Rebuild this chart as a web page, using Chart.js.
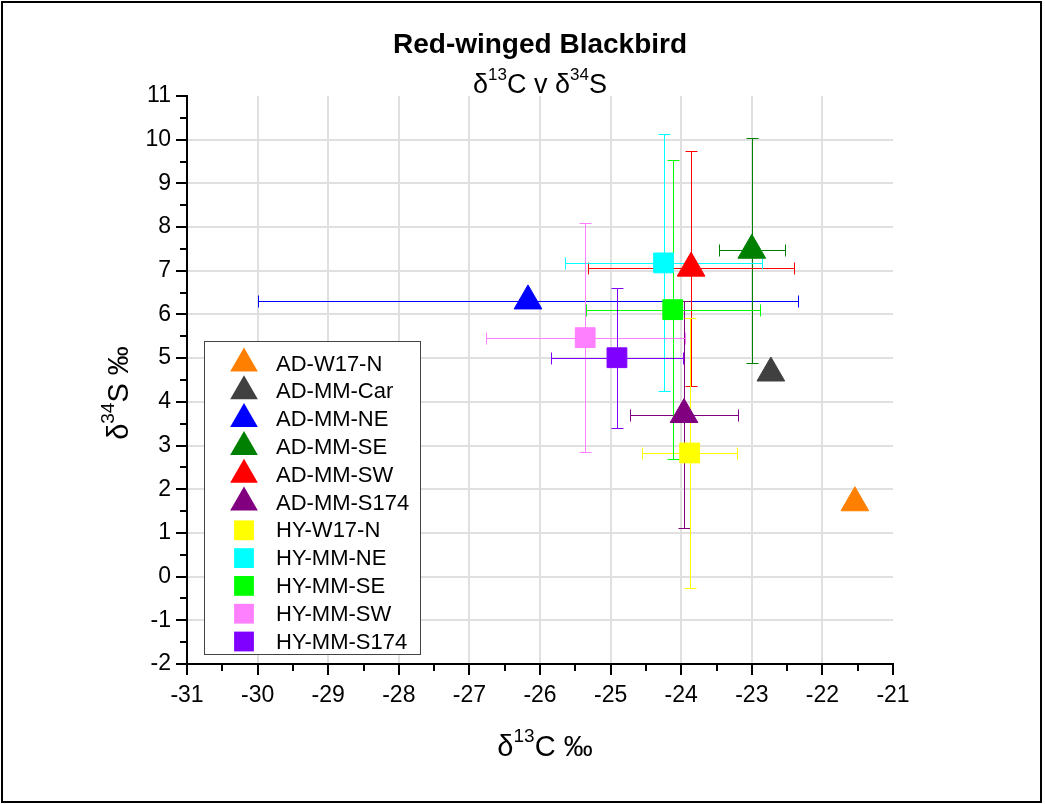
<!DOCTYPE html>
<html>
<head>
<meta charset="utf-8">
<script src="https://cdn.jsdelivr.net/npm/chart.js@4.4.1/dist/chart.umd.min.js"></script>
<style>
  body { margin: 0; background: #fff; }
  canvas { display: block; }
</style>
</head>
<body>
<canvas id="isoChart" width="1045" height="804"></canvas>
<script>
// Red-winged Blackbird, d13C vs d34S, means +/- sd
const seriesNames = ["AD-W17-N", "AD-MM-Car", "AD-MM-NE", "AD-MM-SE", "AD-MM-SW", "AD-MM-S174",
  "HY-W17-N", "HY-MM-NE", "HY-MM-SE", "HY-MM-SW", "HY-MM-S174"];
const carbonMeans = [-21.54, -22.73, -26.17, -23.00, -23.86, -23.96, -23.88, -24.25, -24.12, -25.36, -24.91];
const sulfurMeans = [1.69, 4.66, 6.31, 7.47, 7.06, 3.71, 2.83, 7.18, 6.11, 5.47, 5.01];
const carbonErr = [null, null, 3.83, 0.47, 1.46, 0.77, 0.67, 1.40, 1.23, 1.41, 0.94];
const sulfurErr = [null, null, null, 2.58, 2.69, 2.59, 3.10, 2.94, 3.42, 2.62, 1.60];
const colors = ["#ff8000", "#404040", "#0000ff", "#008000", "#ff0000", "#800080",
  "#ffff00", "#00ffff", "#00ff00", "#ff80ff", "#8000ff"];
const shapes = ["triangle", "triangle", "triangle", "triangle", "triangle", "triangle",
  "rect", "rect", "rect", "rect", "rect"];
const xTicks = [-31, -21];   // axis range
const yTicks = [-2, 11];

const FONT = "Arial, 'Liberation Sans', sans-serif";

// draw text with superscript parts, e.g. δ13C
function drawRich(ctx, parts, x, y, size) {
  const supSize = Math.round(size * 0.64);
  let total = 0;
  parts.forEach(p => {
    ctx.font = (p[1] ? supSize : size) + "px " + FONT;
    total += ctx.measureText(p[0]).width;
  });
  let cx = x - total / 2;
  ctx.textAlign = "left";
  ctx.textBaseline = "alphabetic";
  parts.forEach(p => {
    ctx.font = (p[1] ? supSize : size) + "px " + FONT;
    ctx.fillText(p[0], cx, p[1] ? y - size * 0.5 : y);
    cx += ctx.measureText(p[0]).width;
  });
}

function drawMarker(ctx, shape, x, y, r) {
  ctx.beginPath();
  if (shape === "triangle") {
    let rad = 0;
    ctx.moveTo(x + Math.sin(rad) * r, y - Math.cos(rad) * r);
    rad += 2 * Math.PI / 3;
    ctx.lineTo(x + Math.sin(rad) * r, y - Math.cos(rad) * r);
    rad += 2 * Math.PI / 3;
    ctx.lineTo(x + Math.sin(rad) * r, y - Math.cos(rad) * r);
  } else {
    const s = Math.SQRT1_2 * r;
    ctx.rect(x - s, y - s, 2 * s, 2 * s);
  }
  ctx.closePath();
  ctx.fill();
}

const errorBars = {
  id: "errorBars",
  beforeDatasetsDraw(chart) {
    const ctx = chart.ctx;
    const xs = chart.scales.x, ys = chart.scales.y;
    const cap = 6;
    ctx.save();
    ctx.lineWidth = 1;
    seriesNames.forEach((name, i) => {
      const px = Math.round(xs.getPixelForValue(carbonMeans[i])) + 0.5;
      const py = Math.round(ys.getPixelForValue(sulfurMeans[i])) + 0.5;
      ctx.strokeStyle = colors[i];
      ctx.beginPath();
      if (carbonErr[i] != null) {
        const x1 = Math.round(xs.getPixelForValue(carbonMeans[i] - carbonErr[i])) + 0.5;
        const x2 = Math.round(xs.getPixelForValue(carbonMeans[i] + carbonErr[i])) + 0.5;
        ctx.moveTo(x1, py); ctx.lineTo(x2, py);
        ctx.moveTo(x1, py - cap); ctx.lineTo(x1, py + cap);
        ctx.moveTo(x2, py - cap); ctx.lineTo(x2, py + cap);
      }
      if (sulfurErr[i] != null) {
        const y1 = Math.round(ys.getPixelForValue(sulfurMeans[i] + sulfurErr[i])) + 0.5;
        const y2 = Math.round(ys.getPixelForValue(sulfurMeans[i] - sulfurErr[i])) + 0.5;
        ctx.moveTo(px, y1); ctx.lineTo(px, y2);
        ctx.moveTo(px - cap, y1); ctx.lineTo(px + cap, y1);
        ctx.moveTo(px - cap, y2); ctx.lineTo(px + cap, y2);
      }
      ctx.stroke();
    });
    ctx.restore();
  }
};

const decorations = {
  id: "decorations",
  afterDraw(chart) {
    const ctx = chart.ctx;
    const area = chart.chartArea;
    const xs = chart.scales.x, ys = chart.scales.y;
    ctx.save();
    ctx.fillStyle = "#000";

    // minor ticks
    ctx.strokeStyle = "#000";
    ctx.lineWidth = 2;
    ctx.beginPath();
    for (let v = xTicks[0] + 0.5; v < xTicks[1]; v += 1) {
      const px = Math.round(xs.getPixelForValue(v));
      ctx.moveTo(px, area.bottom); ctx.lineTo(px, area.bottom + 7);
    }
    for (let v = yTicks[0] + 0.5; v < yTicks[1]; v += 1) {
      const py = Math.round(ys.getPixelForValue(v));
      ctx.moveTo(area.left, py); ctx.lineTo(area.left - 7, py);
    }
    ctx.stroke();

    // titles
    ctx.font = "bold 28px " + FONT;
    ctx.textAlign = "center";
    ctx.textBaseline = "alphabetic";
    ctx.fillText("Red-winged Blackbird", 540, 53);
    drawRich(ctx, [["δ", 0], ["13", 1], ["C v δ", 0], ["34", 1], ["S", 0]], 540, 93, 27);
    drawRich(ctx, [["δ", 0], ["13", 1], ["C ‰", 0]], 545, 756, 29);
    ctx.save();
    ctx.translate(128, 393);
    ctx.rotate(-Math.PI / 2);
    drawRich(ctx, [["δ", 0], ["34", 1], ["S ‰", 0]], 0, 0, 29);
    ctx.restore();

    // legend box
    const lx = 204, ly = 341, lw = 216, lh = 313;
    ctx.fillStyle = "#fff";
    ctx.fillRect(lx, ly, lw, lh);
    ctx.strokeStyle = "#444";
    ctx.lineWidth = 1;
    ctx.strokeRect(lx + 0.5, ly + 0.5, lw, lh);
    seriesNames.forEach((name, i) => {
      const cy = 363.5 + i * 27.8;
      ctx.fillStyle = colors[i];
      drawMarker(ctx, shapes[i], 244, cy, shapes[i] === "triangle" ? 16 : 14);
      ctx.fillStyle = "#000";
      ctx.font = "22px " + FONT;
      ctx.textAlign = "left";
      ctx.textBaseline = "middle";
      ctx.fillText(name, 276, cy + 1);
    });

    // page frame
    ctx.strokeStyle = "#000";
    ctx.lineWidth = 2;
    ctx.strokeRect(2, 2, 1039, 800);
    ctx.restore();
  }
};

const datasets = seriesNames.map((name, i) => ({
  label: name,
  data: [{ x: carbonMeans[i], y: sulfurMeans[i] }],
  backgroundColor: colors[i],
  borderColor: colors[i],
  borderWidth: 1,
  pointStyle: shapes[i],
  pointRadius: shapes[i] === "triangle" ? 16 : 14,
  pointHoverRadius: shapes[i] === "triangle" ? 16 : 14
}));

const gridColor = (max) => (c) => (c.tick && c.tick.value === max) ? "rgba(0,0,0,0)" : "#e0e0e0";

new Chart(document.getElementById("isoChart"), {
  type: "scatter",
  data: { datasets: datasets },
  options: {
    responsive: false,
    animation: false,
    layout: { padding: { left: 127, top: 96, right: 152, bottom: 90 } },
    plugins: {
      legend: { display: false },
      title: { display: false },
      tooltip: { enabled: false }
    },
    scales: {
      x: {
        type: "linear",
        min: xTicks[0],
        max: xTicks[1],
        afterFit: (s) => { s.height = 50; },
        border: { display: true, color: "#000", width: 2 },
        grid: { color: gridColor(xTicks[1]), lineWidth: 2, tickColor: "#000", tickLength: 11, tickWidth: 2 },
        ticks: { stepSize: 1, color: "#000", padding: 7, font: { family: FONT, size: 23 } }
      },
      y: {
        type: "linear",
        min: yTicks[0],
        max: yTicks[1],
        afterFit: (s) => { s.width = 60; },
        border: { display: true, color: "#000", width: 2 },
        grid: { color: gridColor(yTicks[1]), lineWidth: 2, tickColor: "#000", tickLength: 11, tickWidth: 2 },
        ticks: { stepSize: 1, color: "#000", padding: 5, font: { family: FONT, size: 23 } }
      }
    }
  },
  plugins: [errorBars, decorations]
});
</script>
</body>
</html>
